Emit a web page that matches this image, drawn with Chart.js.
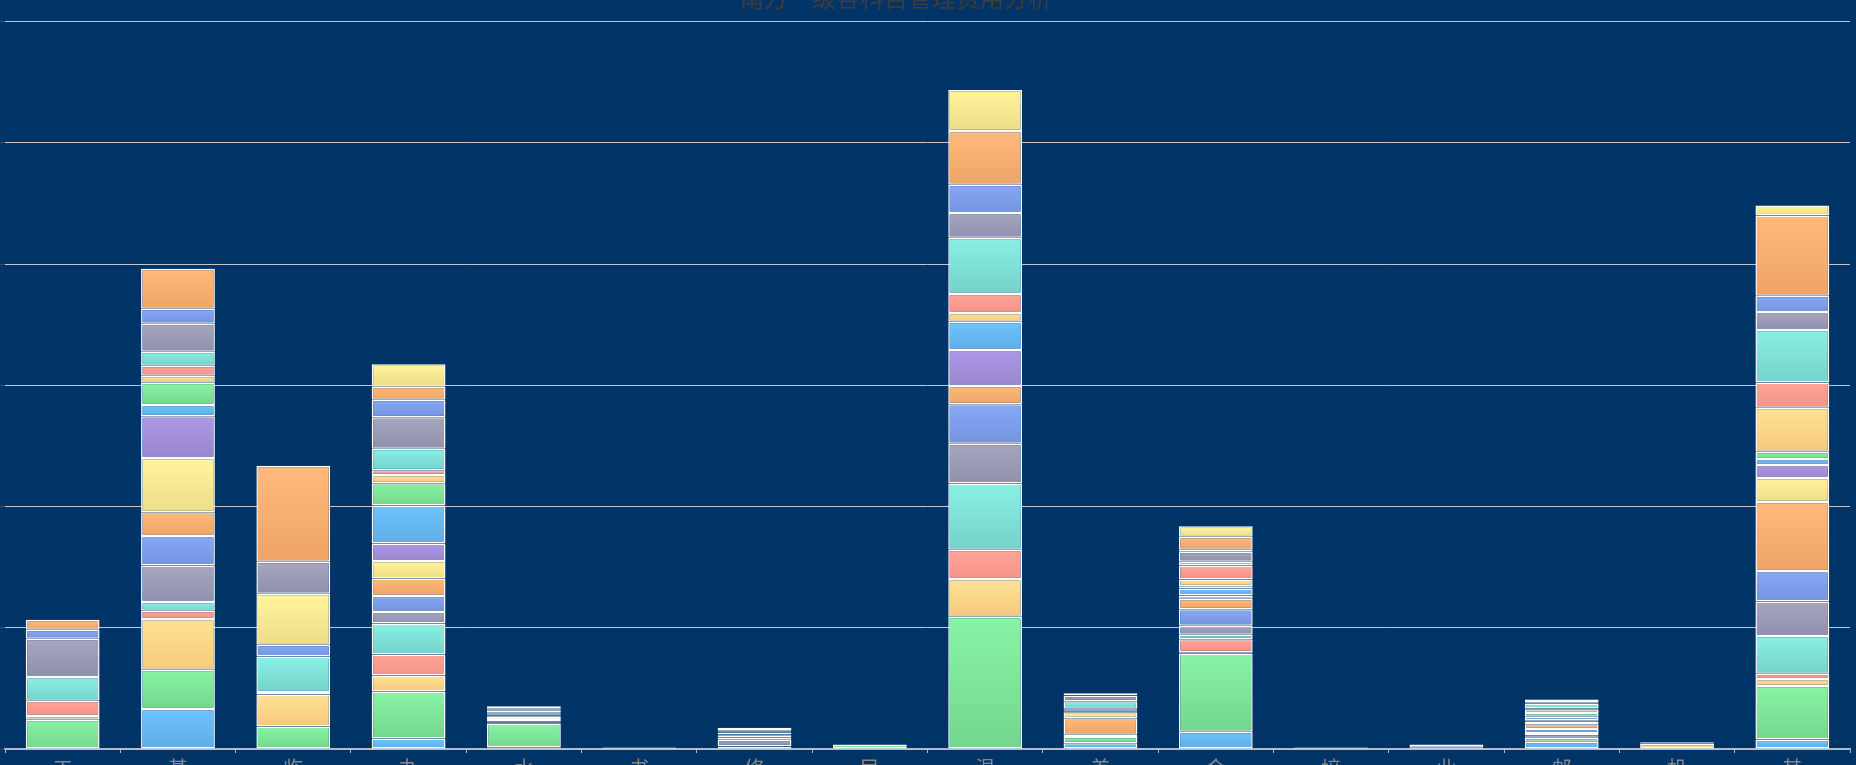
<!DOCTYPE html>
<html>
<head>
<meta charset="utf-8">
<script src="https://cdn.jsdelivr.net/npm/chart.js@4"></script>
<style>
  html, body { margin: 0; padding: 0; background: #003366; overflow: hidden; }
  #wrap { position: absolute; left: -64px; top: -27px; width: 1920px; height: 816px; }
</style>
</head>
<body>
<div id="wrap"><canvas id="chart1" width="1920" height="816"></canvas></div>
<script>
// categorias (eixo x) e valores de cada série empilhada
const categorias = ['工资', '基本福利', '临时工资', '办公费', '水电费', '书报费', '修理费', '民兵费',
  '温暖费', '差旅费', '会议费', '培训费', '业务招待费', '邮电费', '机动车费', '其他费用'];

const s01 = [0, 3.30, 0, 0.86, 0.12, 0, 0.08, 0.04, 0, 0.47, 1.43, 0, 0.05, 0.60, 0, 0.78];
const s02 = [2.42, 3.24, 1.86, 3.88, 1.98, 0.05, 0.08, 0.34, 10.92, 0.52, 6.44, 0, 0.05, 0.33, 0, 4.42];
const s03 = [0.31, 4.18, 2.64, 1.32, 0.06, 0, 0.02, 0, 3.11, 0, 0.12, 0, 0, 0.06, 0.42, 0.58];
const s04 = [1.26, 0.69, 0.20, 1.73, 0.05, 0.08, 0.02, 0, 2.40, 0, 1.07, 0, 0, 0.06, 0.04, 0.43];
const s05 = [1.96, 0.72, 2.93, 2.56, 0.06, 0, 0.02, 0, 5.47, 0, 0.36, 0, 0, 0.06, 0, 3.11];
const s06 = [3.14, 3.00, 0, 0.96, 0.20, 0, 0.55, 0, 3.29, 0, 0.74, 0.12, 0, 0.22, 0, 2.85];
const s07 = [0.74, 2.45, 0.97, 1.32, 0.18, 0, 0.17, 0, 3.26, 0.19, 1.38, 0, 0.28, 0.32, 0, 2.51];
const s08 = [0.83, 1.95, 0, 1.44, 0.05, 0, 0.05, 0, 1.50, 1.35, 0.83, 0, 0, 0.40, 0, 5.69];
const s09 = [0, 4.49, 4.21, 1.45, 0.04, 0, 0.15, 0, 0, 0.50, 0.02, 0, 0, 0.22, 0, 2.00];
const s10 = [0, 3.43, 0, 1.44, 0.04, 0, 0.03, 0, 2.97, 0.06, 0.27, 0, 0, 0.10, 0, 1.06];
const s11 = [0, 0.94, 0, 3.14, 0.05, 0, 0.03, 0, 2.33, 0.06, 0.58, 0, 0, 0.30, 0, 0.49];
const s12 = [0, 1.82, 0, 1.82, 0.05, 0, 0.03, 0, 0, 0.06, 0.19, 0, 0, 0.30, 0, 0.60];
const s13 = [0, 0.58, 0, 0.69, 0.06, 0, 0.10, 0, 0.72, 0.06, 0.55, 0, 0, 0.30, 0, 3.63];
const s14 = [0, 0.83, 0, 0.39, 0.05, 0, 0.03, 0, 1.57, 0.06, 1.16, 0, 0, 0.08, 0.04, 2.09];
const s15 = [0, 1.16, 0, 1.78, 0.06, 0, 0.03, 0, 4.65, 0.60, 0.30, 0, 0, 0.40, 0, 4.33];
const s16 = [0, 2.31, 2.64, 2.59, 0.14, 0, 0.05, 0, 2.04, 0.46, 0.83, 0, 0, 0.06, 0, 1.48];
const s17 = [0, 1.24, 0, 1.45, 0.08, 0, 0.05, 0, 2.33, 0.02, 0.17, 0, 0, 0.06, 0, 1.34];
const s18 = [0, 3.30, 7.92, 1.07, 0.06, 0, 0.05, 0, 4.44, 0.02, 1.07, 0, 0, 0.22, 0, 6.63];
const s19 = [0, 0, 0, 1.85, 0.20, 0, 0.22, 0, 3.37, 0.16, 0.86, 0, 0, 0.02, 0.06, 0.82];

const series = [s01, s02, s03, s04, s05, s06, s07, s08, s09, s10, s11, s12, s13, s14, s15, s16, s17, s18, s19];
const yTicks = [0, 10, 20, 30, 40, 50, 60];

// [cor de cima, cor de baixo] de cada faixa
const cores = [
  ['#6cc4fc', '#60ace8'],
  ['#88f4a4', '#74d68e'],
  ['#ffe294', '#f5c97e'],
  ['#ffa595', '#f5928a'],
  ['#8af0e6', '#74d2ca'],
  ['#a6a6c0', '#9090ac'],
  ['#86a8f6', '#7494de'],
  ['#ffba7a', '#eea466'],
  ['#fff59c', '#eedc88'],
  ['#ac98e8', '#9a86cc']
];

function corGradiente(context) {
  const par = cores[context.datasetIndex % cores.length];
  const chart = context.chart;
  if (!chart.chartArea || context.type !== 'data') return par[0];
  const i = context.dataIndex;
  let base = 0;
  for (let d = 0; d < context.datasetIndex; d++) base += series[d][i];
  const valor = series[context.datasetIndex][i];
  const yTopo = chart.scales.y.getPixelForValue(base + valor);
  const yBase = chart.scales.y.getPixelForValue(base);
  if (!isFinite(yTopo) || yBase - yTopo < 1) return par[0];
  const g = chart.ctx.createLinearGradient(0, yTopo, 0, yBase);
  g.addColorStop(0, par[0]);
  g.addColorStop(1, par[1]);
  return g;
}

Chart.defaults.font.family = '"Noto Sans CJK SC", "Noto Sans", sans-serif';

const datasets = series.map((valores, index) => ({
  label: '科目' + (index + 1),
  data: valores,
  backgroundColor: corGradiente,
  borderColor: '#ffffff',
  borderWidth: 1.5,
  borderSkipped: false,
  categoryPercentage: 0.8,
  barPercentage: 0.8
}));

new Chart(document.getElementById('chart1'), {
  type: 'bar',
  data: {
    labels: categorias.map(c => c.split('')),
    datasets: datasets
  },
  options: {
    responsive: false,
    animation: false,
    layout: { padding: { left: 6, right: 6, top: 0, bottom: 0 } },
    plugins: {
      legend: { display: false },
      tooltip: { enabled: false },
      title: {
        display: true,
        text: '南方一级各科目管理费用分析',
        color: '#3d3d3d',
        font: { size: 24, weight: 'normal' },
        padding: { top: 10, bottom: 10 }
      }
    },
    scales: {
      x: {
        stacked: true,
        grid: { drawOnChartArea: false, drawTicks: true, tickLength: 4, color: '#b4b8c0' },
        border: { display: true, color: '#b4b8c0', width: 1.5 },
        ticks: { color: '#888888', font: { size: 20 }, padding: 3, autoSkip: false, maxRotation: 0 },
        afterFit: scale => { scale.height = 40; }
      },
      y: {
        stacked: true,
        min: 0,
        max: yTicks[yTicks.length - 1],
        afterBuildTicks: scale => { scale.ticks = yTicks.map(v => ({ value: v })); },
        afterFit: scale => { scale.width = 63; },
        grid: { color: 'rgba(210,214,222,0.9)', tickLength: 5, tickColor: '#2c4a6c' },
        border: { display: false },
        ticks: { display: false }
      }
    }
  }
});
</script>
</body>
</html>
